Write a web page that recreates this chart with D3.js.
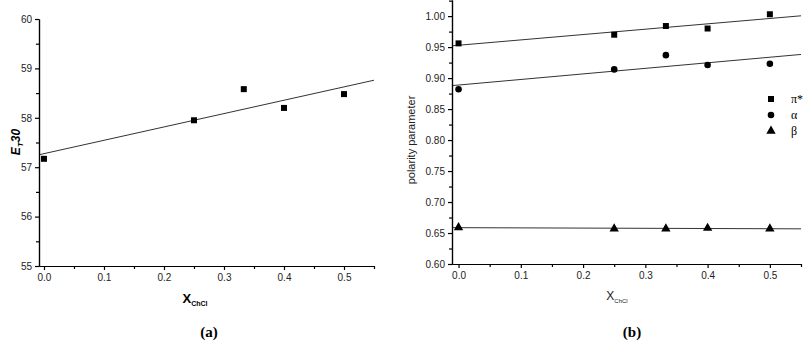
<!DOCTYPE html>
<html>
<head>
<meta charset="utf-8">
<script src="https://cdn.jsdelivr.net/npm/d3@7"></script>
<style>
  body { margin: 0; background: #fff; }
  svg { display: block; font-family: "Liberation Sans", Arial, sans-serif; }
  .tick text { fill: #222; font-size: 10px; font-family: "Liberation Sans", Arial, sans-serif; }
  .domain, .tick line { stroke: #000; stroke-width: 1.2; }
</style>
</head>
<body>
<div id="chart"></div>
<script>
// x values: mole fraction of ChCl
const xChCl = [0, 0.25, 0.333, 0.4, 0.5];

// panel (a): E_T30
const et30 = [57.17, 57.95, 58.58, 58.2, 58.48];

// panel (b): Kamlet-Taft parameters
const piStar = [0.956, 0.970, 0.984, 0.980, 1.003];
const alpha = [0.882, 0.914, 0.937, 0.921, 0.923];
const beta = [0.659, 0.657, 0.657, 0.658, 0.657];

const xTicks = [0, 0.1, 0.2, 0.3, 0.4, 0.5];
const yTicksA = [55, 56, 57, 58, 59, 60];
const yTicksB = [0.60, 0.65, 0.70, 0.75, 0.80, 0.85, 0.90, 0.95, 1.00];

const width = 803, height = 344;
const svg = d3.select("#chart").append("svg")
  .attr("width", width).attr("height", height);

// least squares line through a series
const fit = (xs, ys) => {
  const mx = d3.mean(xs), my = d3.mean(ys);
  let sxy = 0, sxx = 0;
  xs.forEach((x, i) => { sxy += (x - mx) * (ys[i] - my); sxx += (x - mx) * (x - mx); });
  const b = sxy / sxx;
  return (x) => my + b * (x - mx);
};

// draw axes incl. minor ticks
const drawAxes = (g, x, y, yMajor, yMinor, yFmt, xBase, yBase) => {
  g.append("g").attr("transform", `translate(0,${yBase})`)
    .call(d3.axisBottom(x).tickValues(d3.range(0.05, 0.56, 0.1)).tickSize(3).tickFormat("").tickSizeOuter(0));
  g.append("g").attr("transform", `translate(0,${yBase})`)
    .call(d3.axisBottom(x).tickValues(xTicks).tickSize(4).tickPadding(4).tickFormat(d3.format(".1f")).tickSizeOuter(0));
  g.append("g").attr("transform", `translate(${xBase},0)`)
    .call(d3.axisLeft(y).tickValues(yMinor).tickSize(3).tickFormat("").tickSizeOuter(0));
  g.append("g").attr("transform", `translate(${xBase},0)`)
    .call(d3.axisLeft(y).tickValues(yMajor).tickSize(4).tickPadding(3).tickFormat(yFmt).tickSizeOuter(0));
};

// ---------- panel (a) ----------
const xa = d3.scaleLinear().domain([-0.0083, 0.55]).range([39, 374]);
const ya = d3.scaleLinear().domain([55, 60]).range([266, 19]);
const ga = svg.append("g");

const fa = fit(xChCl, et30);
ga.append("line")
  .attr("x1", xa(-0.0083)).attr("y1", ya(fa(-0.0083)))
  .attr("x2", xa(0.55)).attr("y2", ya(fa(0.55)))
  .attr("stroke", "#333").attr("stroke-width", 1);

drawAxes(ga, xa, ya, yTicksA, d3.range(55.5, 60, 1), d3.format("d"), 39, 266);

ga.selectAll("rect.pt").data(xChCl).join("rect")
  .attr("x", (d) => xa(d) - 3).attr("y", (d, i) => ya(et30[i]) - 3)
  .attr("width", 6).attr("height", 6).attr("fill", "#000");

const la = ga.append("text")
  .attr("transform", "translate(20,142) rotate(-90)")
  .attr("text-anchor", "middle")
  .attr("font-weight", "bold").attr("font-style", "italic").attr("font-size", 12);
la.append("tspan").text("E");
la.append("tspan").attr("font-size", 8).attr("dy", 3).text("T");
la.append("tspan").attr("dy", -3).text("30");

const xla = ga.append("text").attr("x", 195).attr("y", 303)
  .attr("text-anchor", "middle").attr("font-weight", "bold").attr("font-size", 13);
xla.append("tspan").text("X");
xla.append("tspan").attr("font-size", 7).attr("dy", 3).text("ChCl");

ga.append("text").attr("x", 209).attr("y", 337).attr("text-anchor", "middle")
  .attr("font-family", "Liberation Serif, serif").attr("font-weight", "bold").attr("font-size", 15)
  .text("(a)");

// ---------- panel (b) ----------
const xb = d3.scaleLinear().domain([-0.0105, 0.55]).range([452, 801]);
const yb = d3.scaleLinear().domain([0.6, 1.026]).range([264, 0]);
const gb = svg.append("g");

[piStar, alpha, beta].forEach((s) => {
  const f = fit(xChCl, s);
  gb.append("line")
    .attr("x1", xb(-0.0105)).attr("y1", yb(f(-0.0105)))
    .attr("x2", xb(0.55)).attr("y2", yb(f(0.55)))
    .attr("stroke", "#333").attr("stroke-width", 1);
});

drawAxes(gb, xb, yb, yTicksB, d3.range(0.625, 1.03, 0.05), d3.format(".2f"), 452, 264);

const sym = {
  sq: d3.symbol().type(d3.symbolSquare).size(36),
  ci: d3.symbol().type(d3.symbolCircle).size(34),
  tr: d3.symbol().type(d3.symbolTriangle).size(38)
};
const series = [
  { vals: piStar, s: sym.sq, label: "\u03c0*" },
  { vals: alpha, s: sym.ci, label: "\u03b1" },
  { vals: beta, s: sym.tr, label: "\u03b2" }
];
series.forEach((se, k) => {
  gb.selectAll(null).data(xChCl).join("path")
    .attr("transform", (d, i) => `translate(${xb(d)},${yb(se.vals[i])})`)
    .attr("d", se.s).attr("fill", "#000");
  gb.append("path").attr("transform", `translate(771,${99 + k * 16})`)
    .attr("d", se.s).attr("fill", "#000");
  gb.append("text").attr("x", 791).attr("y", 103 + k * 16)
    .attr("font-family", "Liberation Serif, serif").attr("font-size", 12)
    .text(se.label);
});

gb.append("text")
  .attr("transform", "translate(415,140) rotate(-90)")
  .attr("text-anchor", "middle").attr("font-size", 11).attr("fill", "#222")
  .text("polarity parameter");

const xlb = gb.append("text").attr("x", 617).attr("y", 300)
  .attr("text-anchor", "middle").attr("font-size", 12).attr("fill", "#222");
xlb.append("tspan").text("X");
xlb.append("tspan").attr("font-size", 6).attr("dy", 3).text("ChCl");

gb.append("text").attr("x", 632).attr("y", 337).attr("text-anchor", "middle")
  .attr("font-family", "Liberation Serif, serif").attr("font-weight", "bold").attr("font-size", 15)
  .text("(b)");
</script>
</body>
</html>
